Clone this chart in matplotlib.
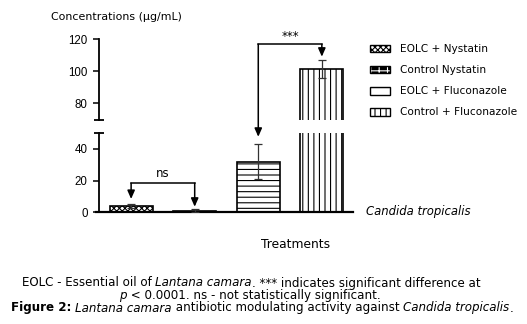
import matplotlib
matplotlib.use("Agg")
import matplotlib.pyplot as plt
from matplotlib.patches import Patch, ConnectionPatch
from matplotlib.legend_handler import HandlerTuple

# ---- data ----
treatments = ["EOLC + Nystatin", "Control Nystatin", "EOLC + Fluconazole", "Control + Fluconazole"]
means = [4.0, 1.0, 32.0, 101.3]
sems = [1.5, 1.0, 11.0, 5.7]
hatches = ["xxxxxx", "xxx", "---", "|||"]
legend_hatches = ["xxxxxx", "++", "--", "|||"]
ns_levels = (18.3, 8.4, 3.5)        # bracket height, left arrow tip, right arrow tip
sig_levels = (116.7, 47.6, 109.0)   # bracket height, left arrow tip, right arrow tip
upper_ticks = [80, 100, 120]
lower_ticks = [0, 20, 40]
upper_range = (70, 120)
lower_range = (0, 50)

plt.rcParams["hatch.linewidth"] = 0.8
W, H = 527, 324
fig = plt.figure(figsize=(W / 100, H / 100), dpi=100)

def px_box(x0, y0, x1, y1):
    return [x0 / W, 1 - y1 / H, (x1 - x0) / W, (y1 - y0) / H]

ax_top = fig.add_axes(px_box(98.7, 39, 353, 119.5))
ax_bot = fig.add_axes(px_box(98.7, 133, 353, 212.3))

tick_font = dict(family="Liberation Sans", size=8.3)
for ax, rng, ticks in ((ax_top, upper_range, upper_ticks), (ax_bot, lower_range, lower_ticks)):
    for i, (m, e, h) in enumerate(zip(means, sems, hatches)):
        face = "black" if i == 1 else "white"
        ax.bar(i, m, width=0.68, color=face, edgecolor="black", hatch=h, linewidth=1.2, zorder=2)
        ax.errorbar(i, m, yerr=e, color="#333333", capsize=3, elinewidth=0.9, capthick=0.9, zorder=3)
    ax.set_xlim(-0.51, 3.49)
    ax.set_ylim(*rng)
    ax.set_yticks(ticks)
    ax.set_yticklabels([str(t) for t in ticks], fontdict=tick_font)
    ax.tick_params(axis="y", direction="out", length=4, width=1.1, pad=4, colors="black")
    ax.set_xticks([])
    for s in ("top", "right"):
        ax.spines[s].set_visible(False)
    ax.spines["left"].set_linewidth(1.3)
    ax.set_facecolor("none")

ax_top.spines["bottom"].set_visible(False)
ax_bot.spines["bottom"].set_linewidth(1.6)
ax_bot.spines["bottom"].set_bounds(-0.56, 3.49)

# caps at the ends of the broken axis
ax_top.set_yticks([70, 120], minor=True)
ax_bot.set_yticks([50], minor=True)
for ax in (ax_top, ax_bot):
    ax.tick_params(axis="y", which="minor", direction="inout", length=7, width=1.3)

# significance brackets
arrow_kw = dict(arrowstyle="-|>,head_length=0.5,head_width=0.22", color="black", lw=1.1,
                shrinkA=0, shrinkB=0, mutation_scale=10)
y_ns, tip0, tip1 = ns_levels
ax_bot.plot([0, 1], [y_ns, y_ns], color="black", lw=1.1, solid_capstyle="projecting")
ax_bot.annotate("", xy=(0, tip0), xytext=(0, y_ns), arrowprops=arrow_kw, annotation_clip=False)
ax_bot.annotate("", xy=(1, tip1), xytext=(1, y_ns), arrowprops=arrow_kw, annotation_clip=False)
ax_bot.text(0.5, y_ns + 2.2, "ns", ha="center", va="bottom", fontsize=8.5, family="DejaVu Sans")

y_sig, tip2, tip3 = sig_levels
ax_top.plot([2, 3], [y_sig, y_sig], color="black", lw=1.1, solid_capstyle="projecting", clip_on=False)
ax_top.annotate("", xy=(3, tip3), xytext=(3, y_sig), arrowprops=arrow_kw, annotation_clip=False)
con = ConnectionPatch(xyA=(2, y_sig), coordsA=ax_top.transData,
                      xyB=(2, tip2), coordsB=ax_bot.transData, **arrow_kw)
fig.add_artist(con)
ax_top.text(2.5, y_sig + 1.0, "***", ha="center", va="bottom", fontsize=8.5, family="DejaVu Sans")

# legend
handles = [
    Patch(facecolor="white", edgecolor="black", hatch=legend_hatches[0], lw=1),
    (Patch(facecolor="black", edgecolor="white", hatch=legend_hatches[1], lw=0),
     Patch(facecolor="none", edgecolor="black", lw=1)),
    Patch(facecolor="white", edgecolor="black", hatch=legend_hatches[2], lw=1),
    Patch(facecolor="white", edgecolor="black", hatch=legend_hatches[3], lw=1),
]
fig.legend(handles, treatments, loc="upper left", bbox_to_anchor=(366 / W, 1 - 40 / H),
           frameon=False, handlelength=1.9, handleheight=0.75,
           handletextpad=0.95, labelspacing=1.05, borderaxespad=0,
           handler_map={tuple: HandlerTuple(ndivide=1, pad=0)},
           prop={"family": "DejaVu Sans", "size": 7.6})

txt = dict(family="DejaVu Sans", color="black")
fig.text(51 / W, 1 - 17 / H, "Concentrations (\u03bcg/mL)", ha="left", va="center", fontsize=7.9, **txt)
fig.text(366 / W, 1 - 212 / H, "Candida tropicalis", ha="left", va="center", fontsize=8.4,
         style="italic", **txt)
fig.text(296 / W, 1 - 244 / H, "Treatments", ha="center", va="center", fontsize=8.8, **txt)

# caption lines with mixed styles
renderer = fig.canvas.get_renderer()

def rich_line(cx_px, cy_px, segments, size=8.6):
    items = []
    total = 0.0
    for s, kw in segments:
        t = fig.text(0, 1 - cy_px / H, s, fontsize=size, va="center", ha="left",
                     family="DejaVu Sans", **kw)
        w = t.get_window_extent(renderer).width
        items.append((t, w))
        total += w
    x = cx_px - total / 2
    for t, w in items:
        t.set_x(x / W)
        x += w

N, I, B = {}, {"style": "italic"}, {"weight": "bold"}
rich_line(251, 283, [("EOLC - Essential oil of ", N), ("Lantana camara", I),
                     (". *** indicates significant difference at", N)])
rich_line(250, 295.5, [("p", I), (" < 0.0001. ns - not statistically significant.", N)])
rich_line(262, 308, [("Figure 2: ", B), ("Lantana camara", I),
                     (" antibiotic modulating activity against ", N), ("Candida tropicalis", I),
                     (".", N)])

fig.savefig("out.png", dpi=100)
